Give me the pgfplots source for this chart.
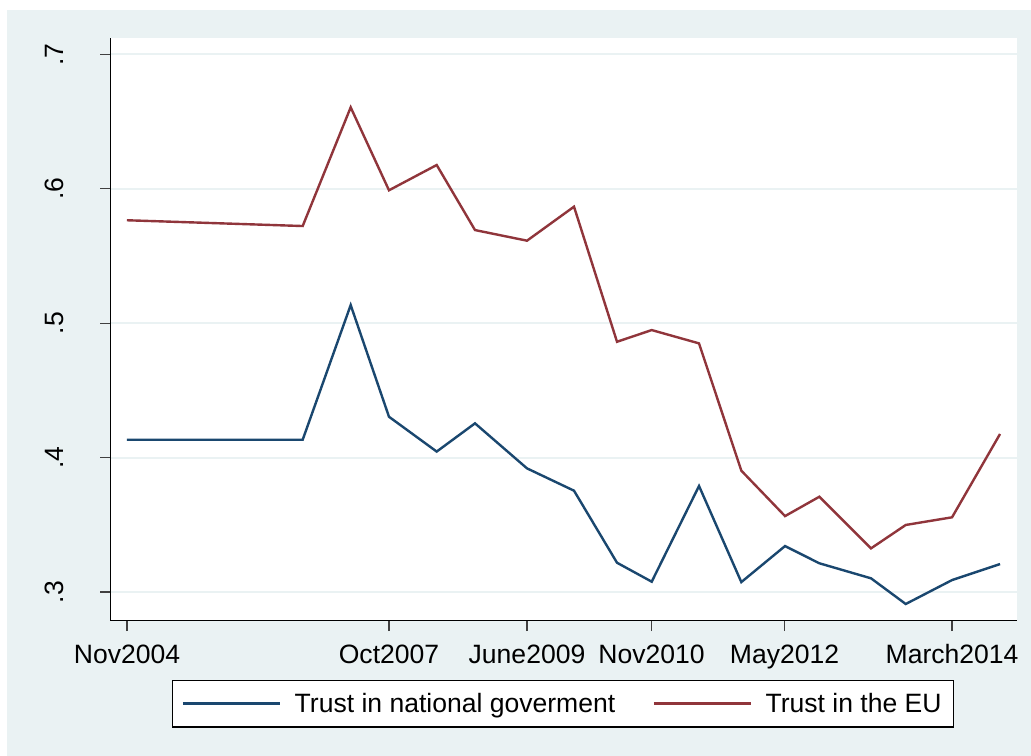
\documentclass[border=0pt]{standalone}
\usepackage{fontspec}
\setmainfont{Liberation Sans}
\usepackage{pgfplots}
\pgfplotsset{compat=1.18}
\definecolor{stbg}{RGB}{234,242,243}
\definecolor{stnavy}{RGB}{26,71,111}
\definecolor{stmaroon}{RGB}{144,53,59}
\begin{document}
\begin{tikzpicture}
% page and graph region (1px = 0.75pt)
\fill[white] (0pt,0pt) rectangle (773.25pt,567pt);
\fill[stbg] (5.25pt,0pt) rectangle (773.25pt,559.5pt);
\begin{axis}[
	at={(83pt,101.6pt)}, anchor=south west,
	scale only axis,
	width=679.4pt, height=436.9pt,
	xmin=110.7, xmax=1016.5,
	ymin=0.2788, ymax=0.7122,
	axis background/.style={fill=white},
	axis x line*=bottom, axis y line*=left,
	axis line style={black, line width=1.1pt},
	tick align=outside,
	major tick length=8pt,
	tick style={black!75, line width=1pt},
	xtick={127,389,527,651.5,784.5,952},
	xticklabels={Nov2004,Oct2007,June2009,Nov2010,May2012,March2014},
	ytick={0.3,0.4,0.5,0.6,0.7},
	yticklabels={.3,.4,.5,.6,.7},
	ymajorgrids,
	major grid style={stbg, line width=1.5pt},
	tick label style={font=\fontsize{19.9}{24}\selectfont},
	yticklabel style={rotate=90, anchor=south, yshift=24pt},
	xticklabel style={yshift=-6.5pt},
	legend columns=2,
	legend style={at={(0.4993,-0.1425)}, anchor=center,
		draw=black, line width=1.1pt, fill=white,
		font=\fontsize{19.9}{24}\selectfont,
		inner xsep=7pt, inner ysep=7.5pt,
		/tikz/every odd column/.append style={column sep=8pt},
		/tikz/every even column/.append style={column sep=26pt}},
	legend image code/.code={\draw[#1] (0pt,0pt) -- (73pt,0pt);},
]
\addplot[stnavy, line width=1.8pt] coordinates {
(127,0.4133) (302.7,0.4133) (350.7,0.5135) (389,0.4304) (436.7,0.4045)
(475,0.4255) (527,0.3920) (574,0.3754) (617,0.3218) (651.7,0.3077)
(699,0.3789) (741.3,0.3074) (785,0.3342) (819.3,0.3214) (871,0.3102)
(905.7,0.2911) (952,0.3089) (1000,0.3208)
};
\addlegendentry{Trust in national goverment}
\addplot[stmaroon, line width=1.8pt] coordinates {
(127,0.5766) (302.7,0.5723) (350.7,0.6606) (389,0.5989) (436.7,0.6177)
(475,0.5693) (527,0.5614) (574,0.5867) (617,0.4862) (651.7,0.4949)
(699,0.4850) (741.3,0.3903) (785,0.3565) (819.3,0.3709) (871,0.3325)
(905.7,0.3499) (952,0.3556) (1000,0.4176)
};
\addlegendentry{Trust in the EU}
\end{axis}
\end{tikzpicture}
\end{document}
